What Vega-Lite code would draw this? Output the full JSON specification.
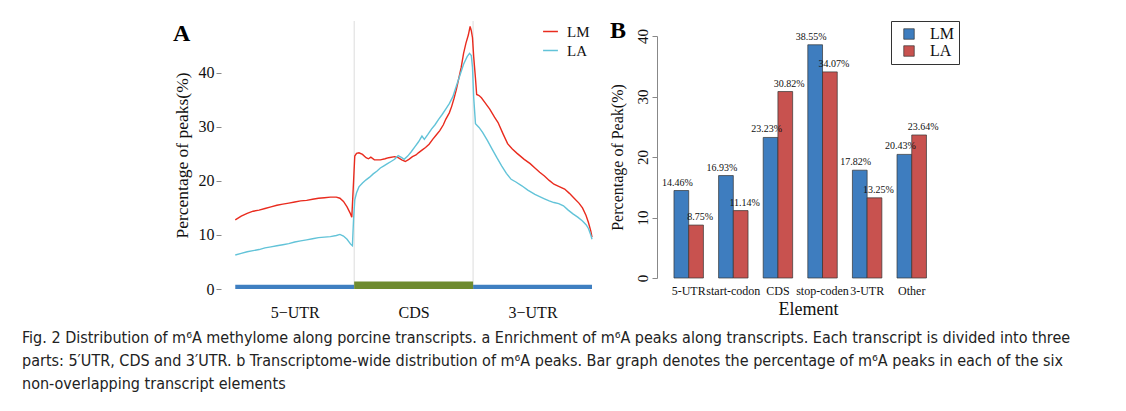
{
  "$schema": "https://vega.github.io/schema/vega-lite/v6.json",
  "background": "white",
  "padding": {"left": 22, "top": 18, "right": 5, "bottom": 5},
  "spacing": 14,
  "config": {
    "view": {"stroke": null},
    "font": "Liberation Serif",
    "axis": {"labelFont": "Liberation Serif", "titleFont": "Liberation Serif", "titleFontWeight": "normal", "labelColor": "#111", "titleColor": "#111", "grid": false},
    "legend": {"labelFont": "Liberation Serif", "labelColor": "#111"}
  },
  "title": {
    "text": [
      "Fig. 2 Distribution of m⁶A methylome along porcine transcripts. a Enrichment of m⁶A peaks along transcripts. Each transcript is divided into three",
      "parts: 5′UTR, CDS and 3′UTR. b Transcriptome-wide distribution of m⁶A peaks. Bar graph denotes the percentage of m⁶A peaks in each of the six",
      "non-overlapping transcript elements"
    ],
    "orient": "bottom",
    "anchor": "start",
    "frame": "bounds",
    "font": "DejaVu Sans Condensed, Liberation Sans Narrow, Roboto, sans-serif",
    "fontSize": 16,
    "fontWeight": "normal",
    "lineHeight": 23,
    "color": "#222",
    "offset": 10,
    "dx": -151
  },
  "resolve": {"scale": {"color": "independent"}, "legend": {"color": "independent"}},
  "hconcat": [
    {
      "width": 371,
      "height": 268,
      "title": {"text": "A", "anchor": "start", "frame": "bounds", "fontSize": 24, "font": "Liberation Serif", "fontWeight": "bold", "baseline": "top", "offset": -25, "color": "black"},
      "layer": [
        {
          "data": {"values": [{"b": 1}, {"b": 2}]},
          "mark": {"type": "rule", "color": "#DCDCDC", "strokeWidth": 1},
          "encoding": {"x": {"field": "b", "type": "quantitative", "scale": {"domain": [-0.12, 3.0], "nice": false, "zero": false},
                             "axis": {"values": [0.5, 1.5, 2.5], "labelExpr": "datum.value < 1 ? '5−UTR' : datum.value < 2 ? 'CDS' : '3−UTR'", "title": null, "domain": false, "ticks": false, "labelFont": "Liberation Serif", "labelFontSize": 16, "labelPadding": 15}}}
        },
        {
          "data": {"values": [{"region": "5'UTR", "start": 0, "end": 1}, {"region": "3'UTR", "start": 2, "end": 3}]},
          "mark": {"type": "rect", "color": "#3F7FC1"},
          "encoding": {
            "x": {"field": "start", "type": "quantitative"},
            "x2": {"field": "end"},
            "y": {"datum": 0},
            "y2": {"datum": 0.8}
          }
        },
        {
          "data": {"values": [{"region": "CDS", "start": 1, "end": 2}]},
          "mark": {"type": "rect", "color": "#6E8B2F"},
          "encoding": {
            "x": {"field": "start", "type": "quantitative"},
            "x2": {"field": "end"},
            "y": {"datum": 0},
            "y2": {"datum": 1.4}
          }
        },
        {
          "mark": {"type": "rule", "color": "#888888", "strokeWidth": 1},
          "encoding": {"x": {"datum": -0.12}, "y": {"datum": 0}, "y2": {"datum": 40}}
        },
        {
          "data": {"values": [
            {"pos": 0.00, "pct": 12.8, "group": "LM"},
            {"pos": 0.05, "pct": 13.5, "group": "LM"},
            {"pos": 0.10, "pct": 14.0, "group": "LM"},
            {"pos": 0.15, "pct": 14.4, "group": "LM"},
            {"pos": 0.20, "pct": 14.6, "group": "LM"},
            {"pos": 0.25, "pct": 14.9, "group": "LM"},
            {"pos": 0.30, "pct": 15.2, "group": "LM"},
            {"pos": 0.35, "pct": 15.5, "group": "LM"},
            {"pos": 0.40, "pct": 15.7, "group": "LM"},
            {"pos": 0.45, "pct": 15.9, "group": "LM"},
            {"pos": 0.50, "pct": 16.1, "group": "LM"},
            {"pos": 0.55, "pct": 16.3, "group": "LM"},
            {"pos": 0.60, "pct": 16.4, "group": "LM"},
            {"pos": 0.65, "pct": 16.6, "group": "LM"},
            {"pos": 0.70, "pct": 16.8, "group": "LM"},
            {"pos": 0.75, "pct": 16.9, "group": "LM"},
            {"pos": 0.80, "pct": 17.0, "group": "LM"},
            {"pos": 0.85, "pct": 17.0, "group": "LM"},
            {"pos": 0.88, "pct": 16.8, "group": "LM"},
            {"pos": 0.91, "pct": 16.2, "group": "LM"},
            {"pos": 0.94, "pct": 15.2, "group": "LM"},
            {"pos": 0.965, "pct": 14.1, "group": "LM"},
            {"pos": 0.98, "pct": 13.3, "group": "LM"},
            {"pos": 0.995, "pct": 20.0, "group": "LM"},
            {"pos": 1.005, "pct": 24.6, "group": "LM"},
            {"pos": 1.02, "pct": 25.1, "group": "LM"},
            {"pos": 1.04, "pct": 25.2, "group": "LM"},
            {"pos": 1.07, "pct": 24.9, "group": "LM"},
            {"pos": 1.10, "pct": 24.3, "group": "LM"},
            {"pos": 1.12, "pct": 24.1, "group": "LM"},
            {"pos": 1.14, "pct": 24.4, "group": "LM"},
            {"pos": 1.17, "pct": 23.9, "group": "LM"},
            {"pos": 1.22, "pct": 23.9, "group": "LM"},
            {"pos": 1.26, "pct": 24.1, "group": "LM"},
            {"pos": 1.29, "pct": 24.3, "group": "LM"},
            {"pos": 1.34, "pct": 24.5, "group": "LM"},
            {"pos": 1.37, "pct": 24.3, "group": "LM"},
            {"pos": 1.40, "pct": 23.9, "group": "LM"},
            {"pos": 1.43, "pct": 23.6, "group": "LM"},
            {"pos": 1.46, "pct": 24.0, "group": "LM"},
            {"pos": 1.49, "pct": 24.5, "group": "LM"},
            {"pos": 1.52, "pct": 24.8, "group": "LM"},
            {"pos": 1.54, "pct": 25.2, "group": "LM"},
            {"pos": 1.57, "pct": 25.7, "group": "LM"},
            {"pos": 1.60, "pct": 26.2, "group": "LM"},
            {"pos": 1.63, "pct": 26.8, "group": "LM"},
            {"pos": 1.66, "pct": 27.7, "group": "LM"},
            {"pos": 1.69, "pct": 28.5, "group": "LM"},
            {"pos": 1.72, "pct": 29.3, "group": "LM"},
            {"pos": 1.75, "pct": 30.4, "group": "LM"},
            {"pos": 1.77, "pct": 31.4, "group": "LM"},
            {"pos": 1.80, "pct": 32.6, "group": "LM"},
            {"pos": 1.82, "pct": 33.8, "group": "LM"},
            {"pos": 1.84, "pct": 35.3, "group": "LM"},
            {"pos": 1.86, "pct": 37.0, "group": "LM"},
            {"pos": 1.88, "pct": 39.0, "group": "LM"},
            {"pos": 1.90, "pct": 41.0, "group": "LM"},
            {"pos": 1.92, "pct": 43.6, "group": "LM"},
            {"pos": 1.94, "pct": 45.5, "group": "LM"},
            {"pos": 1.96, "pct": 47.0, "group": "LM"},
            {"pos": 1.975, "pct": 48.6, "group": "LM"},
            {"pos": 1.985, "pct": 47.8, "group": "LM"},
            {"pos": 1.995, "pct": 46.5, "group": "LM"},
            {"pos": 2.005, "pct": 43.0, "group": "LM"},
            {"pos": 2.02, "pct": 39.0, "group": "LM"},
            {"pos": 2.03, "pct": 36.0, "group": "LM"},
            {"pos": 2.05, "pct": 35.8, "group": "LM"},
            {"pos": 2.07, "pct": 35.4, "group": "LM"},
            {"pos": 2.10, "pct": 34.5, "group": "LM"},
            {"pos": 2.14, "pct": 33.3, "group": "LM"},
            {"pos": 2.18, "pct": 31.8, "group": "LM"},
            {"pos": 2.21, "pct": 30.8, "group": "LM"},
            {"pos": 2.25, "pct": 28.8, "group": "LM"},
            {"pos": 2.29, "pct": 26.9, "group": "LM"},
            {"pos": 2.33, "pct": 25.9, "group": "LM"},
            {"pos": 2.37, "pct": 25.1, "group": "LM"},
            {"pos": 2.43, "pct": 24.0, "group": "LM"},
            {"pos": 2.48, "pct": 23.2, "group": "LM"},
            {"pos": 2.52, "pct": 22.4, "group": "LM"},
            {"pos": 2.56, "pct": 21.6, "group": "LM"},
            {"pos": 2.60, "pct": 20.9, "group": "LM"},
            {"pos": 2.64, "pct": 20.1, "group": "LM"},
            {"pos": 2.68, "pct": 19.4, "group": "LM"},
            {"pos": 2.72, "pct": 19.0, "group": "LM"},
            {"pos": 2.77, "pct": 18.5, "group": "LM"},
            {"pos": 2.81, "pct": 17.7, "group": "LM"},
            {"pos": 2.85, "pct": 16.8, "group": "LM"},
            {"pos": 2.89, "pct": 15.9, "group": "LM"},
            {"pos": 2.92, "pct": 15.0, "group": "LM"},
            {"pos": 2.95, "pct": 13.6, "group": "LM"},
            {"pos": 2.97, "pct": 12.3, "group": "LM"},
            {"pos": 2.99, "pct": 10.7, "group": "LM"},
            {"pos": 3.00, "pct": 9.6, "group": "LM"},
            {"pos": 0.00, "pct": 6.3, "group": "LA"},
            {"pos": 0.05, "pct": 6.6, "group": "LA"},
            {"pos": 0.10, "pct": 6.9, "group": "LA"},
            {"pos": 0.15, "pct": 7.1, "group": "LA"},
            {"pos": 0.20, "pct": 7.3, "group": "LA"},
            {"pos": 0.25, "pct": 7.6, "group": "LA"},
            {"pos": 0.30, "pct": 7.8, "group": "LA"},
            {"pos": 0.35, "pct": 8.0, "group": "LA"},
            {"pos": 0.40, "pct": 8.2, "group": "LA"},
            {"pos": 0.45, "pct": 8.4, "group": "LA"},
            {"pos": 0.50, "pct": 8.7, "group": "LA"},
            {"pos": 0.55, "pct": 8.9, "group": "LA"},
            {"pos": 0.60, "pct": 9.1, "group": "LA"},
            {"pos": 0.65, "pct": 9.3, "group": "LA"},
            {"pos": 0.70, "pct": 9.5, "group": "LA"},
            {"pos": 0.75, "pct": 9.6, "group": "LA"},
            {"pos": 0.80, "pct": 9.7, "group": "LA"},
            {"pos": 0.85, "pct": 9.9, "group": "LA"},
            {"pos": 0.88, "pct": 10.1, "group": "LA"},
            {"pos": 0.91, "pct": 9.8, "group": "LA"},
            {"pos": 0.94, "pct": 9.2, "group": "LA"},
            {"pos": 0.97, "pct": 8.3, "group": "LA"},
            {"pos": 0.985, "pct": 8.0, "group": "LA"},
            {"pos": 0.995, "pct": 13.0, "group": "LA"},
            {"pos": 1.005, "pct": 16.5, "group": "LA"},
            {"pos": 1.02, "pct": 17.8, "group": "LA"},
            {"pos": 1.04, "pct": 18.9, "group": "LA"},
            {"pos": 1.07, "pct": 19.6, "group": "LA"},
            {"pos": 1.10, "pct": 20.2, "group": "LA"},
            {"pos": 1.13, "pct": 20.7, "group": "LA"},
            {"pos": 1.16, "pct": 21.3, "group": "LA"},
            {"pos": 1.19, "pct": 21.8, "group": "LA"},
            {"pos": 1.22, "pct": 22.4, "group": "LA"},
            {"pos": 1.25, "pct": 22.8, "group": "LA"},
            {"pos": 1.28, "pct": 23.2, "group": "LA"},
            {"pos": 1.31, "pct": 23.6, "group": "LA"},
            {"pos": 1.34, "pct": 24.0, "group": "LA"},
            {"pos": 1.37, "pct": 24.7, "group": "LA"},
            {"pos": 1.40, "pct": 24.3, "group": "LA"},
            {"pos": 1.42, "pct": 24.0, "group": "LA"},
            {"pos": 1.45, "pct": 24.6, "group": "LA"},
            {"pos": 1.48, "pct": 25.4, "group": "LA"},
            {"pos": 1.51, "pct": 26.3, "group": "LA"},
            {"pos": 1.54, "pct": 27.2, "group": "LA"},
            {"pos": 1.57, "pct": 28.3, "group": "LA"},
            {"pos": 1.59, "pct": 27.7, "group": "LA"},
            {"pos": 1.62, "pct": 28.6, "group": "LA"},
            {"pos": 1.65, "pct": 29.6, "group": "LA"},
            {"pos": 1.68, "pct": 30.4, "group": "LA"},
            {"pos": 1.71, "pct": 31.4, "group": "LA"},
            {"pos": 1.74, "pct": 32.3, "group": "LA"},
            {"pos": 1.77, "pct": 33.3, "group": "LA"},
            {"pos": 1.80, "pct": 34.3, "group": "LA"},
            {"pos": 1.83, "pct": 35.6, "group": "LA"},
            {"pos": 1.86, "pct": 37.6, "group": "LA"},
            {"pos": 1.89, "pct": 39.6, "group": "LA"},
            {"pos": 1.92, "pct": 41.6, "group": "LA"},
            {"pos": 1.95, "pct": 43.0, "group": "LA"},
            {"pos": 1.97, "pct": 43.6, "group": "LA"},
            {"pos": 1.985, "pct": 43.2, "group": "LA"},
            {"pos": 1.995, "pct": 41.0, "group": "LA"},
            {"pos": 2.005, "pct": 35.5, "group": "LA"},
            {"pos": 2.02, "pct": 30.6, "group": "LA"},
            {"pos": 2.05, "pct": 29.9, "group": "LA"},
            {"pos": 2.08, "pct": 29.0, "group": "LA"},
            {"pos": 2.12, "pct": 27.5, "group": "LA"},
            {"pos": 2.16, "pct": 25.9, "group": "LA"},
            {"pos": 2.20, "pct": 24.3, "group": "LA"},
            {"pos": 2.24, "pct": 22.8, "group": "LA"},
            {"pos": 2.28, "pct": 21.4, "group": "LA"},
            {"pos": 2.32, "pct": 20.3, "group": "LA"},
            {"pos": 2.36, "pct": 19.8, "group": "LA"},
            {"pos": 2.41, "pct": 19.1, "group": "LA"},
            {"pos": 2.46, "pct": 18.3, "group": "LA"},
            {"pos": 2.52, "pct": 17.5, "group": "LA"},
            {"pos": 2.56, "pct": 17.1, "group": "LA"},
            {"pos": 2.60, "pct": 16.7, "group": "LA"},
            {"pos": 2.64, "pct": 16.3, "group": "LA"},
            {"pos": 2.68, "pct": 16.0, "group": "LA"},
            {"pos": 2.72, "pct": 15.8, "group": "LA"},
            {"pos": 2.76, "pct": 15.4, "group": "LA"},
            {"pos": 2.80, "pct": 14.6, "group": "LA"},
            {"pos": 2.84, "pct": 13.9, "group": "LA"},
            {"pos": 2.88, "pct": 13.3, "group": "LA"},
            {"pos": 2.92, "pct": 12.6, "group": "LA"},
            {"pos": 2.95, "pct": 11.9, "group": "LA"},
            {"pos": 2.97, "pct": 11.2, "group": "LA"},
            {"pos": 2.99, "pct": 10.0, "group": "LA"},
            {"pos": 3.00, "pct": 9.2, "group": "LA"}
          ]},
          "mark": {"type": "line", "strokeWidth": 1.4},
          "encoding": {
            "x": {"field": "pos", "type": "quantitative",
                  "axis": {"values": [0.5, 1.5, 2.5], "labelExpr": "datum.value < 1 ? '5−UTR' : datum.value < 2 ? 'CDS' : '3−UTR'", "title": null, "domain": false, "ticks": false, "labelFont": "Liberation Serif", "labelFontSize": 16, "labelPadding": 15}},
            "y": {"field": "pct", "type": "quantitative",
                  "scale": {"domain": [0, 49.6], "nice": false},
                  "axis": {"values": [0, 10, 20, 30, 40], "title": "Percentage of peaks(%)", "titleFont": "Liberation Serif", "titleFontSize": 17.5, "titlePadding": 7, "labelFont": "Liberation Serif", "labelFontSize": 16, "domain": false, "tickColor": "#888888", "tickSize": 5, "labelPadding": 2}},
            "color": {"field": "group", "type": "nominal",
                      "scale": {"domain": ["LM", "LA"], "range": ["#E92B1E", "#62C3D8"]},
                      "legend": {"title": null, "orient": "top-right", "offset": 2, "padding": 0, "symbolType": "stroke", "symbolSize": 220, "symbolStrokeWidth": 1.5, "labelFont": "Liberation Serif", "labelFontSize": 15, "labelOffset": 8, "rowPadding": 2}}
          }
        }
      ]
    },
    {
      "width": 302,
      "height": 257,
      "title": {"text": "B", "anchor": "start", "frame": "bounds", "fontSize": 24, "font": "Liberation Serif", "fontWeight": "bold", "baseline": "top", "offset": -22, "dx": 1, "color": "black"},
      "data": {"values": [
        {"element": "5-UTR", "group": "LM", "value": 14.46, "label": "14.46%"},
        {"element": "5-UTR", "group": "LA", "value": 8.75, "label": "8.75%"},
        {"element": "start-codon", "group": "LM", "value": 16.93, "label": "16.93%"},
        {"element": "start-codon", "group": "LA", "value": 11.14, "label": "11.14%"},
        {"element": "CDS", "group": "LM", "value": 23.23, "label": "23.23%"},
        {"element": "CDS", "group": "LA", "value": 30.82, "label": "30.82%"},
        {"element": "stop-coden", "group": "LM", "value": 38.55, "label": "38.55%"},
        {"element": "stop-coden", "group": "LA", "value": 34.07, "label": "34.07%"},
        {"element": "3-UTR", "group": "LM", "value": 17.82, "label": "17.82%"},
        {"element": "3-UTR", "group": "LA", "value": 13.25, "label": "13.25%"},
        {"element": "Other", "group": "LM", "value": 20.43, "label": "20.43%"},
        {"element": "Other", "group": "LA", "value": 23.64, "label": "23.64%"}
      ]},
      "encoding": {
        "x": {"field": "element", "type": "nominal", "sort": null,
              "scale": {"paddingInner": 0.34, "paddingOuter": 0.555, "align": 0.343},
              "axis": {"title": "Element", "titleFont": "Liberation Serif", "titleFontSize": 18, "titlePadding": 4, "labelFont": "Liberation Serif", "labelFontSize": 12, "labelAngle": 0, "labelPadding": 7, "labelOverlap": false, "labelBound": false, "domain": false, "ticks": false}},
        "xOffset": {"field": "group", "type": "nominal", "scale": {"domain": ["LM", "LA"]}},
        "y": {"field": "value", "type": "quantitative",
              "scale": {"domain": [0, 40], "range": [257, 15], "nice": false},
              "axis": {"values": [0, 10, 20, 30, 40], "title": "Percentage of Peak(%)", "titleFont": "Liberation Serif", "titleFontSize": 16, "titlePadding": 10, "labelFont": "Liberation Serif", "labelFontSize": 15, "labelAngle": 270, "domainColor": "#888888", "tickColor": "#888888", "tickSize": 5, "labelPadding": 2}}
      },
      "layer": [
        {
          "mark": {"type": "bar", "stroke": "#333333", "strokeWidth": 0.7},
          "encoding": {
            "color": {"field": "group", "type": "nominal",
                      "scale": {"domain": ["LM", "LA"], "range": ["#3E7DBF", "#C8524F"]},
                      "legend": {"title": null, "orient": "top-right", "offset": 0, "strokeColor": "#333333", "padding": 5, "symbolOffset": 5, "symbolType": "square", "symbolSize": 110, "symbolStrokeColor": "#333333", "symbolStrokeWidth": 0.7, "labelFont": "Liberation Serif", "labelFontSize": 16, "labelOffset": 13, "rowPadding": 1}}
          }
        },
        {
          "transform": [{"filter": "datum.group == 'LM'"}],
          "mark": {"type": "text", "fontSize": 10, "baseline": "bottom", "dy": -3, "dx": -4, "color": "#111"},
          "encoding": {"text": {"field": "label"}}
        },
        {
          "transform": [{"filter": "datum.group == 'LA'"}],
          "mark": {"type": "text", "fontSize": 10, "baseline": "bottom", "dy": -3, "dx": 4, "color": "#111"},
          "encoding": {"text": {"field": "label"}}
        }
      ]
    }
  ]
}
